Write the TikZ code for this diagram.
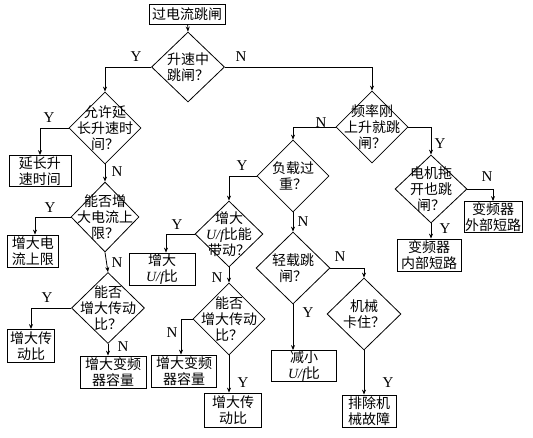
\documentclass[tikz,border=0pt]{standalone}
\usepackage{fontspec}
\setmainfont{Liberation Serif}
\newfontfamily\cjk{Noto Sans CJK SC}
\newfontfamily\latserif{Liberation Serif}
\usetikzlibrary{shapes.geometric,arrows.meta}
\newcommand{\uf}{{\latserif\itshape U/f}}
\tikzset{
  dia/.style={draw, diamond, inner sep=0pt, line width=0.8pt},
  box/.style={draw, rectangle, inner sep=0pt, line width=0.8pt, align=center,
    font=\cjk\fontsize{14}{15.5}\selectfont},
  txt/.style={align=center, inner sep=0pt, font=\cjk\fontsize{14}{16}\selectfont},
  yn/.style={inner sep=0pt, font=\latserif\fontsize{15}{15}\selectfont},
  arr/.style={-{Stealth[length=5pt,width=4pt]}, line width=0.8pt},
}
\begin{document}
\begin{tikzpicture}[x=1pt,y=-1pt]
\useasboundingbox[fill=white] (0,0) rectangle (533,437);

% top box
\node[box, minimum width=76pt, minimum height=20pt] (top) at (187,14) {过电流跳闸};

% diamonds
\node[dia, minimum width=73pt, minimum height=70pt] (d1) at (188,67) {};
\node[txt] (t1) at (d1) {升速中\\跳闸？};
\node[dia, minimum width=72pt, minimum height=72pt] (d2) at (105,128) {};
\node[txt] (t2) at (d2) {允许延\\长升速时\\间？};
\node[dia, minimum width=68pt, minimum height=70pt] (d4) at (105,217) {};
\node[txt] (t4) at (d4) {能否增\\大电流上\\限？};
\node[dia, minimum width=73pt, minimum height=71pt] (d5) at (108,308) {};
\node[txt] (t5) at (d5) {能否\\增大传动\\比？};
\node[dia, minimum width=72pt, minimum height=72pt] (d3) at (372,127) {};
\node[txt] (t3) at (d3) {频率刚\\上升就跳\\闸？};
\node[dia, minimum width=72pt, minimum height=72pt] (d6) at (293,176) {};
\node[txt] (t6) at (d6) {负载过\\重？};
\node[dia, minimum width=72pt, minimum height=68pt] (d7) at (431,189) {};
\node[txt] (t7) at (d7) {电机拖\\开也跳\\闸？};
\node[dia, minimum width=68pt, minimum height=66pt] (d8) at (229,234) {};
\node[txt] (t8) at (d8) {增大\\\uf{}比能\\带动？};
\node[dia, minimum width=72pt, minimum height=72pt] (d9) at (229,319) {};
\node[txt] (t9) at (d9) {能否\\增大传动\\比？};
\node[dia, minimum width=74pt, minimum height=72pt] (d10) at (293,268) {};
\node[txt] (t10) at (d10) {轻载跳\\闸？};
\node[dia, minimum width=74pt, minimum height=72pt] (d11) at (364,314) {};
\node[txt] (t11) at (d11) {机械\\卡住？};

% boxes
\node[box, minimum width=62pt, minimum height=31pt] (bext) at (40,171) {延长升\\速时间};
\node[box, minimum width=51pt, minimum height=32pt] (bcur) at (33,251) {增大电\\流上限};
\node[box, minimum width=47pt, minimum height=33pt] (btr1) at (31,346) {增大传\\动比};
\node[box, minimum width=66pt, minimum height=32pt] (bcap1) at (113,372) {增大变频\\器容量};
\node[box, minimum width=66pt, minimum height=32pt] (buf1) at (162,269) {增大\\\uf{}比};
\node[box, minimum width=65pt, minimum height=32pt] (bcap2) at (184,371) {增大变频\\器容量};
\node[box, minimum width=57pt, minimum height=34pt] (btr2) at (233,410) {增大传\\动比};
\node[box, minimum width=65pt, minimum height=31pt] (buf2) at (304,366) {减小\\\uf{}比};
\node[box, minimum width=54pt, minimum height=32pt] (bmech) at (369,411) {排除机\\械故障};
\node[box, minimum width=64pt, minimum height=32pt] (bin) at (429,255) {变频器\\内部短路};
\node[box, minimum width=58pt, minimum height=31pt] (bout) at (493,217) {变频器\\外部短路};

% connectors
\draw[arr] (top) -- (d1.north);
\draw[arr] (d1.west) -| (d2.north);
\draw[arr] (d1.east) -| (d3.north);
\draw[arr] (d2.west) -| (bext.north);
\draw[arr] (d2.south) -- (d4.north);
\draw[arr] (d4.west) -| ([xshift=2pt]bcur.north);
\draw[arr] (d4.south) -- (d5.north);
\draw[arr] (d5.west) -| (btr1.north);
\draw[arr] (d5.south) -- (d5.south |- bcap1.north);
\draw[arr] (d3.west) -| (d6.north);
\draw[arr] (d3.east) -| (d7.north);
\draw[arr] (d7.east) -| (bout.north);
\draw[arr] (d7.south) -- (d7.south |- bin.north);
\draw[arr] (d6.west) -| (d8.north);
\draw[arr] (d6.south) -- (d10.north);
\draw[arr] (d8.west) -| ([xshift=4pt]buf1.north);
\draw[arr] (d8.south) -- (d9.north);
\draw[arr] (d9.west) -| ([xshift=-3pt]bcap2.north);
\draw[arr] (d9.south) -- (d9.south |- btr2.north);
\draw[arr] (d10.south) -- (d10.south |- buf2.north);
\draw[arr] (d10.east) -| (d11.north);
\draw[arr] (d11.south) -- (d11.south |- bmech.north);

% Y / N labels
\node[yn] (l1y) at (136,57) {Y};
\node[yn] (l1n) at (241,57) {N};
\node[yn] (l2y) at (49,118) {Y};
\node[yn] (l2n) at (117,172) {N};
\node[yn] (l4y) at (50,208) {Y};
\node[yn] (l4n) at (117,263) {N};
\node[yn] (l5y) at (47,298) {Y};
\node[yn] (l5n) at (123,347) {N};
\node[yn] (l3n) at (321,123) {N};
\node[yn] (l3y) at (440,144) {Y};
\node[yn] (l7n) at (487,177) {N};
\node[yn] (l7y) at (445,229) {Y};
\node[yn] (l6y) at (242,166) {Y};
\node[yn] (l6n) at (303,222) {N};
\node[yn] (l8y) at (177,225) {Y};
\node[yn] (l8n) at (217,278) {N};
\node[yn] (l9n) at (172,333) {N};
\node[yn] (l9y) at (243,383) {Y};
\node[yn] (l10n) at (340,257) {N};
\node[yn] (l10y) at (308,313) {Y};
\node[yn] (l11y) at (388,383) {Y};
\end{tikzpicture}
\end{document}
